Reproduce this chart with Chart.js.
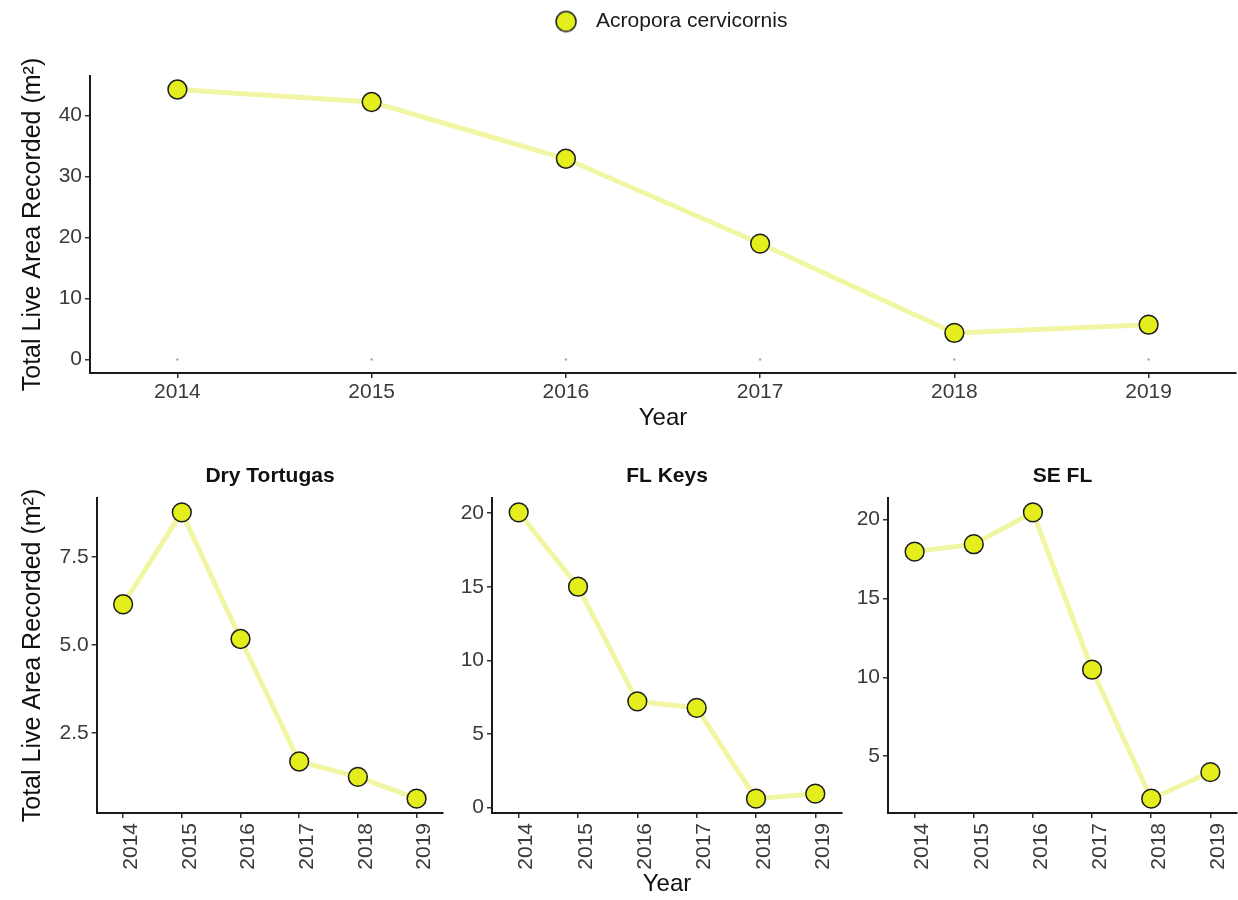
<!DOCTYPE html>
<html>
<head>
<meta charset="utf-8">
<script src="https://cdn.jsdelivr.net/npm/chart.js@4.4.1/dist/chart.umd.min.js"></script>
<style>
  html, body { margin: 0; padding: 0; background: #fff; overflow: hidden; width: 1238px; height: 900px; }
  canvas { position: absolute; display: block; }
</style>
</head>
<body>
<canvas id="cTotal" width="1352" height="440" style="left:0;top:0"></canvas>
<canvas id="cDry" width="540" height="460" style="left:0;top:440px"></canvas>
<canvas id="cKeys" width="470" height="460" style="left:431.7px;top:440px"></canvas>
<canvas id="cSe" width="469" height="460" style="left:828.3px;top:440px"></canvas>
<script>
// ---- survey data: total live area of Acropora cervicornis (m²) per year ----
const years = [2014, 2015, 2016, 2017, 2018, 2019];
const yearLabels = ['2014', '2015', '2016', '2017', '2018', '2019'];
const speciesName = 'Acropora cervicornis';
const totalArea = [44.25, 42.2, 32.9, 19.0, 4.35, 5.7];
const zeroRecords = [0, 0, 0, 0, 0, 0];

const regionNames = ['Dry Tortugas', 'FL Keys', 'SE FL'];
const dryTortugasArea = [6.16, 8.78, 5.17, 1.68, 1.24, 0.62];
const flKeysArea = [20.05, 15.0, 7.22, 6.77, 0.61, 0.95];
const seFlArea = [17.96, 18.43, 20.45, 10.48, 2.31, 3.99];

const totalTicks = [0, 10, 20, 30, 40];
const totalTickLabels = ['0', '10', '20', '30', '40'];
const dryTortugasTicks = [2.5, 5.0, 7.5];
const dryTortugasTickLabels = ['2.5', '5.0', '7.5'];
const flKeysTicks = [0, 5, 10, 15, 20];
const flKeysTickLabels = ['0', '5', '10', '15', '20'];
const seFlTicks = [5, 10, 15, 20];
const seFlTickLabels = ['5', '10', '15', '20'];

const yTitle = 'Total Live Area Recorded (m²)';
const xTitle = 'Year';

// ---- styling ----
Chart.defaults.font.family = "'Liberation Sans', Arial, Helvetica, sans-serif";
Chart.defaults.color = '#3a3a3a';
const AXIS_COLOR = '#1a1a1a';
const TITLE_COLOR = '#111111';
const FILL = '#e3ee1c';
const LINE = '#f1f6a4';

// ggplot-like 5% expansion around the data
function expanded(values) {
  const lo = Math.min(...values), hi = Math.max(...values);
  const pad = (hi - lo) * 0.05;
  return { min: lo - pad, max: hi + pad };
}
const xRange = { min: years[0] - 0.45, max: years[years.length - 1] + 0.45 };

function points(values) {
  return years.map((yr, i) => ({ x: yr, y: values[i] }));
}

function seriesStyle() {
  return {
    borderColor: LINE,
    borderWidth: 5,
    backgroundColor: FILL,
    pointBackgroundColor: FILL,
    pointBorderColor: '#1c1c1c',
    pointBorderWidth: 1.5,
    pointRadius: 9.4,
    pointHoverRadius: 9.4,
    tension: 0,
    clip: false
  };
}

function spacer(position, size) {
  return {
    type: 'linear', position, display: true,
    grid: { display: false }, border: { display: false }, ticks: { display: false },
    afterFit: s => {
      const v = typeof size === 'function' ? size(s) : size;
      if (position === 'left' || position === 'right') s.width = v; else s.height = v;
    }
  };
}

function xAxis(height, rotated, showTitle, titlePadBottom) {
  return {
    type: 'linear', position: 'bottom', min: xRange.min, max: xRange.max,
    afterBuildTicks: s => { s.ticks = years.map(v => ({ value: v })); },
    afterFit: s => { s.height = height; },
    border: { display: true, color: AXIS_COLOR, width: 2 },
    grid: { drawOnChartArea: false, drawTicks: true, tickLength: 5, color: '#333', lineWidth: 1.5 },
    ticks: {
      autoSkip: false,
      minRotation: rotated ? 90 : 0, maxRotation: rotated ? 90 : 0,
      labelOffset: rotated ? 8 : 0,
      padding: rotated ? 5 : 2,
      font: { size: 21 }, color: '#3a3a3a',
      callback: (v) => yearLabels[years.indexOf(v)]
    },
    title: { display: showTitle, text: xTitle, color: TITLE_COLOR, font: { size: 24 },
             padding: { top: 0, bottom: titlePadBottom } }
  };
}

function yAxis(range, ticks, labels, width, showTitle) {
  return {
    type: 'linear', position: 'left', min: range.min, max: range.max,
    afterBuildTicks: s => { s.ticks = ticks.map(v => ({ value: v })); },
    afterFit: s => { s.width = width; },
    border: { display: true, color: AXIS_COLOR, width: 2 },
    grid: { drawOnChartArea: false, drawTicks: true, tickLength: 5, color: '#333', lineWidth: 1.5 },
    ticks: {
      padding: 3, font: { size: 21 }, color: '#3a3a3a',
      callback: (v) => labels[ticks.indexOf(v)]
    },
    title: { display: showTitle, text: yTitle, color: TITLE_COLOR, font: { size: 25 },
             padding: { top: 18, bottom: 0 } }
  };
}

// legend symbol: circle drawn left of the sprite centre so the label sits further right
function legendSwatch() {
  const c = document.createElement('canvas');
  c.width = 44; c.height = 26;
  const g = c.getContext('2d');
  g.beginPath();
  g.arc(13, 13, 10, 0, Math.PI * 2);
  g.fillStyle = FILL; g.fill();
  g.lineWidth = 1.5; g.strokeStyle = '#1c1c1c'; g.stroke();
  return c;
}

// ---- overall chart ----
const CHART_TOP = 76;
new Chart(document.getElementById('cTotal'), {
  type: 'line',
  data: {
    datasets: [
      Object.assign({ label: speciesName, data: points(totalArea) }, seriesStyle()),
      { label: 'zero', data: points(zeroRecords), showLine: false, pointRadius: 1.3,
        pointBorderWidth: 0, pointBackgroundColor: 'rgba(70,70,70,0.45)', clip: false }
    ]
  },
  options: {
    responsive: false, animation: false, devicePixelRatio: 1, events: [],
    layout: { padding: { top: 1, left: 0, right: 0, bottom: 0 } },
    plugins: {
      tooltip: { enabled: false },
      legend: {
        display: true, position: 'top', align: 'center',
        labels: {
          usePointStyle: true, pointStyle: legendSwatch(),
          boxWidth: 21, boxHeight: 15, padding: 10,
          font: { size: 21 }, color: '#1a1a1a',
          filter: item => item.text === speciesName
        }
      }
    },
    scales: {
      x: xAxis(440 - 373, false, true, 7),
      y: yAxis(expanded(totalArea.concat(zeroRecords)), totalTicks, totalTickLabels, 90, true),
      xTop: spacer('top', s => CHART_TOP - 1 - s.chart.legend.height),
      yRight: spacer('right', 1352 - 1236)
    }
  }
});

// ---- regional panels ----
function regionPanel(id, title, values, ticks, labels, leftW, rightW, showY, showX) {
  new Chart(document.getElementById(id), {
    type: 'line',
    data: { datasets: [Object.assign({ label: title, data: points(values) }, seriesStyle())] },
    options: {
      responsive: false, animation: false, devicePixelRatio: 1, events: [],
      plugins: {
        tooltip: { enabled: false },
        legend: { display: false },
        title: { display: true, text: title, color: TITLE_COLOR,
                 font: { size: 21, weight: 'bold' }, padding: { top: 24.1, bottom: 8.7 } }
      },
      scales: {
        x: xAxis(460 - 373, true, showX, 1),
        y: yAxis(expanded(values), ticks, labels, leftW, showY),
        yRight: spacer('right', rightW)
      }
    }
  });
}

regionPanel('cDry', regionNames[0], dryTortugasArea, dryTortugasTicks, dryTortugasTickLabels, 96.7, 97, true, false);
regionPanel('cKeys', regionNames[1], flKeysArea, flKeysTicks, flKeysTickLabels, 60, 60, false, true);
regionPanel('cSe', regionNames[2], seFlArea, seFlTicks, seFlTickLabels, 60, 60, false, false);
</script>
</body>
</html>
